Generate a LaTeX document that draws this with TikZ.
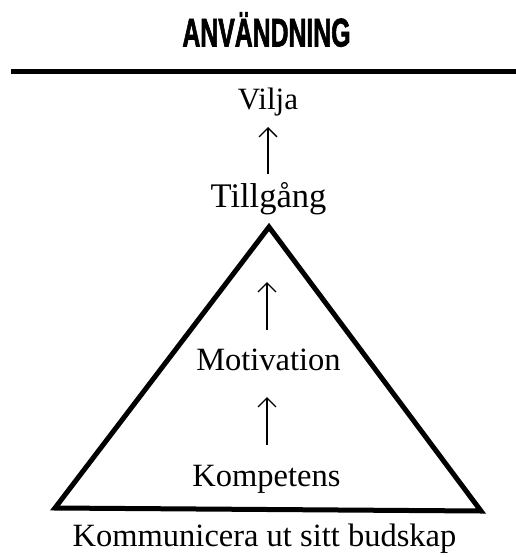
\documentclass[tikz,border=0pt]{standalone}
\usepackage{fontspec}
\usepackage{graphicx}
\setmainfont{Liberation Serif}
\newfontfamily\titlefont[BoldFeatures={FakeBold=2.2}]{Liberation Sans}
\usetikzlibrary{arrows.meta}
\tikzset{
  lbl/.style={inner sep=0pt, anchor=base, font=\fontsize{32.5}{36}\selectfont},
  up/.style={line width=1.4pt, -{Straight Barb[length=9pt,width=18pt,line width=1.4pt]}},
}
\begin{document}
\begin{tikzpicture}[x=1pt,y=-1pt]
\useasboundingbox[fill=white] (0,0) rectangle (516,557);
% title
\node[inner sep=0pt, anchor=base] (title) at (266.5,46.5)
  {\scalebox{0.62}[1]{\titlefont\bfseries\fontsize{40}{44}\selectfont ANVÄNDNING}};
\coordinate (ruleL) at (11,71.5);
\coordinate (ruleR) at (516,71.5);
\draw[line width=5pt] (ruleL) -- (ruleR);
% texts
\node[lbl, font=\fontsize{31}{34}\selectfont] (vilja) at (268,109) {Vilja};
\node[lbl, font=\fontsize{34.5}{38}\selectfont] (tillgang) at (268.5,207) {Tillgång};
\node[lbl] (motiv) at (268.5,370) {Motivation};
\node[lbl] (komp) at (266.5,486) {Kompetens};
\node[lbl] (komm) at (264.5,546) {Kommunicera ut sitt budskap};
% triangle
\coordinate (apex) at (269,227);
\coordinate (bl) at (55,508);
\coordinate (br) at (481,511);
\draw[line width=5pt, line join=miter] (apex) -- (bl) -- (br) -- cycle;
% arrows
\coordinate (a1s) at (268,174);
\coordinate (a1e) at (268,127);
\coordinate (a2s) at (267,330);
\coordinate (a2e) at (267,282);
\coordinate (a3s) at (267,445);
\coordinate (a3e) at (267,397);
\draw[up] (a1s) -- (a1e);
\draw[up] (a2s) -- (a2e);
\draw[up] (a3s) -- (a3e);
\end{tikzpicture}
\end{document}
